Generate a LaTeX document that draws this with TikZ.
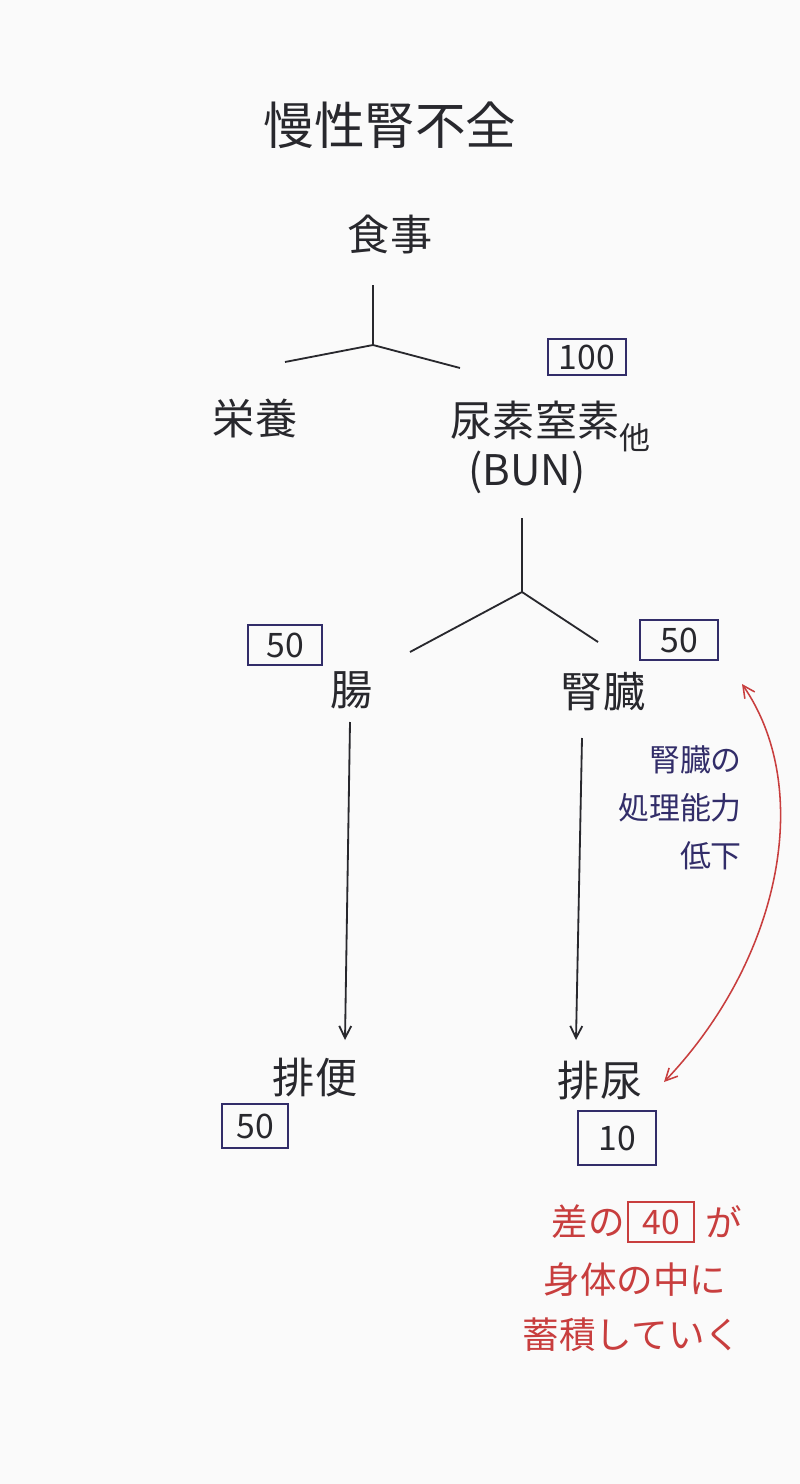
\documentclass[tikz,border=0pt]{standalone}
\usepackage{fontspec}
\setmainfont{Noto Sans CJK JP}
\usepackage{tikz}
\usetikzlibrary{positioning,arrows.meta,calc}
\definecolor{ink}{RGB}{40,40,45}
\definecolor{tBox}{RGB}{50,45,105}
\definecolor{tRed}{RGB}{200,62,62}
\definecolor{paper}{RGB}{250,250,250}

\begin{document}
\begin{tikzpicture}[
  x=0.025cm, y=-0.025cm,
  >={Straight Barb[length=3mm,width=3mm]},
  word/.style={text=ink, inner sep=0pt, font=\fontsize{30}{34}\selectfont},
  big/.style={text=ink, inner sep=0pt, font=\fontsize{36}{40}\selectfont},
  num/.style={draw=tBox, line width=1.8pt, text=ink, minimum width=1.85cm, minimum height=1.0cm, inner sep=0pt, font=\fontsize{24}{28}\selectfont},
  note/.style={text=tBox, inner sep=0pt, align=right, font=\fontsize{22}{34}\selectfont},
  memo/.style={text=tRed, inner sep=0pt, font=\fontsize{26}{30}\selectfont},
  stem/.style={line width=1.3pt, ink},
]
\fill[paper] (0,0) rectangle (800,1484);
\useasboundingbox (0,0) rectangle (800,1484);

% ---- title and meal ----
\node[big] (CKD) at (390,125) {慢性腎不全};
\node[word] (MEAL) at (390,235) {食事};

% ---- first split ----
\coordinate (J1) at (373,345);
\coordinate (J1top) at (373,285);
\coordinate (J1l) at (285,362);
\coordinate (J1r) at (460,368);
\draw[stem] (J1top) -- (J1) -- (J1l);
\draw[stem] (J1) -- (J1r);

\node[word] (NUTR) at (255,418) {栄養};
\node[word] (UREA) at (535,420) {尿素窒素};
\node[word, font=\fontsize{22}{26}\selectfont] (ETC) at (635,438) {他};
\node[word] (BUN) at (527,472) {(BUN)};
\node[num, minimum width=1.95cm, minimum height=0.9cm] (N100) at (587,357) {100};

% ---- second split ----
\coordinate (J2) at (522,592);
\coordinate (J2top) at (522,518);
\coordinate (J2l) at (410,652);
\coordinate (J2r) at (598,642);
\draw[stem] (J2top) -- (J2) -- (J2l);
\draw[stem] (J2) -- (J2r);

\node[num] (N50a) at (285,645) {50};
\node[num, minimum width=1.95cm] (N50b) at (679,640) {50};
\node[word] (GUT) at (352,690) {腸};
\node[word] (KID) at (603,692) {腎臓};

% ---- excretion ----
\node[word] (STOOL) at (315,1078) {排便};
\node[word] (URINE) at (600,1080) {排尿};
\node[num, minimum width=1.65cm, minimum height=1.1cm] (N50c) at (255,1126) {50};
\node[num, minimum width=1.95cm, minimum height=1.35cm] (N10) at (617,1138) {10};

\coordinate (G0) at (350,722);
\coordinate (G1) at (345,1040);
\coordinate (K0) at (582,738);
\coordinate (K1) at (576,1040);
\draw[stem, ->] (G0) -- (G1);
\draw[stem, ->] (K0) -- (K1);

% ---- kidney note ----
\node[note] (WEAK) at (680,808) {腎臓の\\処理能力\\低下};

% ---- red loop ----
\coordinate (R0) at (742,684);
\coordinate (R1) at (664,1082);
\draw[<->, tRed, line width=1.1pt] (R0) .. controls (815,790) and (780,960) .. (R1);

% ---- difference ----
\node[memo] (DIFF) at (588,1222) {差の};
\node[draw=tRed, line width=1.5pt, text=tRed, inner sep=0pt, minimum width=1.65cm, minimum height=1.0cm, font=\fontsize{24}{28}\selectfont] (N40) at (661,1222) {40};
\node[memo] (GA) at (724,1222) {が};
\node[memo] (BODY) at (635,1280) {身体の中に};
\node[memo] (STORE) at (632,1335) {蓄積していく};

\end{tikzpicture}
\end{document}
